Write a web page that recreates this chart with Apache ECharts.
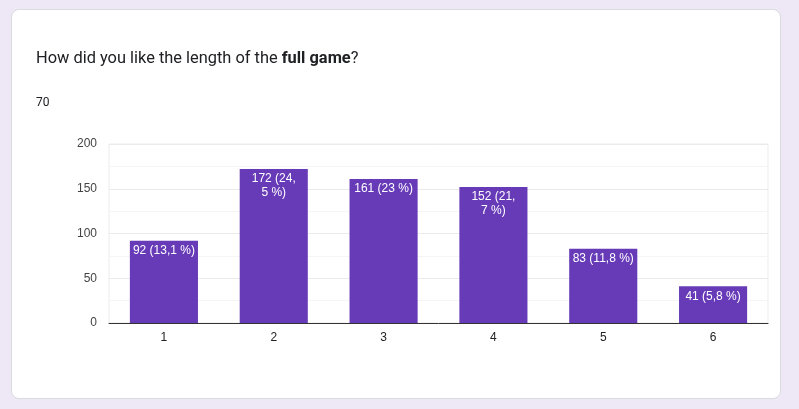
<!DOCTYPE html>
<html>
<head>
<meta charset="utf-8">
<script src="https://cdn.jsdelivr.net/npm/echarts@6/dist/echarts.min.js"></script>
<style>
  html, body { margin: 0; padding: 0; background: #ede7f6; }
  #card {
    position: absolute; left: 11px; top: 9px; width: 768px; height: 388px;
    background: #fff; border: 1px solid #dadce0; border-radius: 8px;
  }
  #main { position: absolute; left: 0; top: 0; width: 799px; height: 409px; }
</style>
</head>
<body>
<div id="card"></div>
<div id="main"></div>
<script>
// answers 1..6, number of responses
var categories = ['1', '2', '3', '4', '5', '6'];
var counts = [92, 172, 161, 152, 83, 41];
// bar labels as shown by Forms (long ones wrap inside the bar)
var labelTexts = ['92 (13,1 %)', '172 (24,\n5 %)', '161 (23 %)', '152 (21,\n7 %)', '83 (11,8 %)', '41 (5,8 %)'];
var yTicks = [0, 50, 100, 150, 200];

var myChart = echarts.init(document.getElementById('main'));

var option = {
    animation: false,
    title: [
        {
            text: '{a|How did you like the length of the }{b|full game}{a|?}',
            left: 36,
            top: 51,
            padding: 0,
            textStyle: {
                fontWeight: 'normal',
                rich: {
                    a: { fontFamily: 'Roboto', fontSize: 16.4, color: '#202124', fontWeight: 'normal' },
                    b: { fontFamily: 'Roboto', fontSize: 16.4, color: '#202124', fontWeight: 'bold' }
                }
            }
        },
        {
            text: '70',
            left: 36,
            top: 97,
            padding: 0,
            textStyle: { fontFamily: 'Roboto', fontSize: 12, fontWeight: 'normal', color: '#202124' }
        }
    ],
    grid: {
        left: 109,
        right: 31,
        top: 144,
        bottom: 86,
        show: true,
        borderColor: '#ebebeb',
        borderWidth: 1
    },
    xAxis: {
        type: 'category',
        data: categories,
        axisTick: { show: false },
        axisLine: { lineStyle: { color: '#333', width: 1 } },
        axisLabel: { fontFamily: 'Liberation Sans, Arial', fontSize: 12, color: '#222', margin: 9 }
    },
    yAxis: {
        type: 'value',
        min: yTicks[0],
        max: yTicks[yTicks.length - 1],
        interval: 50,
        axisLine: { show: false },
        axisTick: { show: false },
        axisLabel: { fontFamily: 'Liberation Sans, Arial', fontSize: 12, color: '#444', margin: 12, padding: [2, 0, 0, 0] },
        splitLine: { lineStyle: { color: '#ebebeb' } },
        minorTick: { show: false, splitNumber: 2 },
        minorSplitLine: { show: true, lineStyle: { color: '#f5f5f5' } }
    },
    series: [
        {
            type: 'bar',
            data: counts,
            barCategoryGap: '38%',
            itemStyle: { color: '#673ab7' },
            label: {
                show: true,
                position: 'insideTop',
                distance: 3,
                color: '#fff',
                fontFamily: 'Liberation Sans, Arial',
                fontSize: 12,
                lineHeight: 14,
                formatter: function (p) { return labelTexts[p.dataIndex]; }
            }
        }
    ]
};
myChart.setOption(option);
</script>
</body>
</html>
